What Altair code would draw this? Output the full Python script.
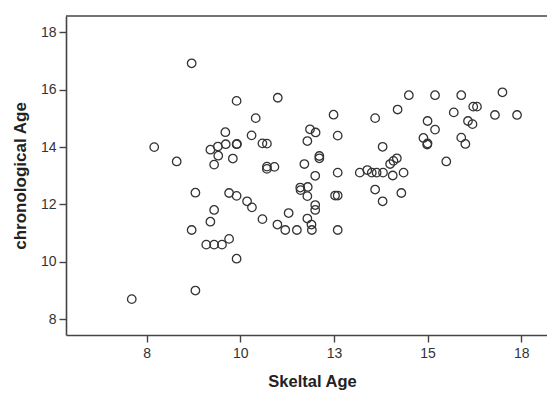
import altair as alt
import pandas as pd

skeletal_age = [
    7.10, 7.70, 8.30, 8.70, 8.70, 8.80, 8.80, 9.09, 9.30, 9.51,
    9.70, 9.90, 9.20, 9.30, 9.70, 9.90, 10.18, 10.31, 9.20, 9.40,
    9.61, 9.90, 9.91, 9.41, 9.30, 9.80, 9.60, 9.90, 10.41, 10.30,
    10.59, 10.71, 11.00, 10.71, 10.71, 10.91, 10.59, 10.99, 11.29, 11.20,
    11.51, 11.71, 11.86, 12.01, 11.79, 12.00, 12.11, 12.11, 12.49, 12.60,
    12.60, 11.60, 11.61, 11.80, 11.79, 12.00, 12.00, 11.79, 11.90, 11.91,
    12.53, 12.60, 12.60, 13.19, 13.39, 13.51, 13.64, 13.81, 14.07, 14.36,
    13.60, 13.80, 14.30, 13.60, 13.80, 14.00, 14.09, 14.18, 14.20, 14.50,
    14.89, 15.00, 14.99, 15.00, 15.20, 15.20, 15.50, 15.70, 15.90, 15.90,
    16.01, 16.08, 16.20, 16.22, 16.32, 16.80, 17.00, 17.39,
]
chronological_age = [
    8.70, 14.00, 13.50, 16.92, 11.11, 12.41, 9.00, 10.60, 10.60, 10.60,
    10.80, 10.11, 11.40, 11.81, 12.40, 12.30, 12.11, 11.90, 13.91, 14.02,
    14.10, 14.10, 14.11, 13.70, 13.39, 13.60, 14.52, 15.61, 15.01, 14.41,
    14.13, 14.12, 15.72, 13.32, 13.24, 13.31, 11.49, 11.30, 11.70, 11.11,
    11.11, 13.41, 14.62, 14.51, 14.21, 13.00, 13.69, 13.61, 15.13, 14.40,
    13.11, 12.59, 12.50, 12.61, 12.29, 11.98, 11.81, 11.51, 11.30, 11.11,
    12.31, 12.31, 11.11, 13.11, 13.20, 13.11, 13.11, 13.11, 13.01, 13.11,
    12.52, 12.11, 12.40, 15.01, 14.01, 13.41, 13.52, 13.61, 15.31, 15.81,
    14.32, 14.13, 14.09, 14.91, 14.61, 15.81, 13.50, 15.21, 15.81, 14.33,
    14.11, 14.91, 14.80, 15.41, 15.41, 15.12, 15.91, 15.12,
]
x_ticks = [7.5, 10, 12.5, 15, 17.5]
y_ticks = [8, 10, 12, 14, 16, 18]

df = pd.DataFrame({"Skeltal Age": skeletal_age, "chronological Age": chronological_age})

W, H = 481, 319

points = alt.Chart(df).mark_point(
    shape="circle", filled=False, size=72, strokeWidth=1.3, color="#333333", opacity=1
).encode(
    x=alt.X(
        "Skeltal Age:Q",
        scale=alt.Scale(domain=[5.344, 18.19], nice=False, zero=False),
        axis=alt.Axis(
            values=x_ticks, format=".0f", title="Skeltal Age", grid=False,
            domainColor="#444444", domainWidth=1.6, tickColor="#444444", tickWidth=1.4,
            tickSize=7, labelFontSize=14, labelColor="#333333", labelPadding=4,
            labelFont="Liberation Sans", titleFont="Liberation Sans", titleFontSize=16.5,
            titleFontWeight="bold", titleColor="#222222", titleX=246, titleY=46,
            titleBaseline="middle", titleAlign="center",
        ),
    ),
    y=alt.Y(
        "chronological Age:Q",
        scale=alt.Scale(domain=[7.45, 18.57], nice=False, zero=False),
        axis=alt.Axis(
            values=y_ticks, title="chronological Age", grid=False,
            domainColor="#444444", domainWidth=1.6, tickColor="#444444", tickWidth=1.4,
            tickSize=7, labelFontSize=14, labelColor="#333333", labelPadding=3,
            labelFont="Liberation Sans", titleFont="Liberation Sans", titleFontSize=17,
            titleFontWeight="bold", titleColor="#222222", titleX=-46, titleY=159.5,
            titleBaseline="middle", titleAlign="center", titleAngle=-90,
        ),
    ),
)

top_line = alt.Chart(pd.DataFrame({"a": [0]})).mark_rule(
    color="#444444", strokeWidth=1.6
).encode(y=alt.value(0), x=alt.value(0), x2=alt.value(W))

chart = alt.layer(points, top_line).properties(
    width=W, height=H,
    autosize=alt.AutoSizeParams(type="none"),
    padding={"left": 58, "top": 8, "right": 0, "bottom": 56},
).configure_view(stroke=None)

chart.save("out.html", embed_options={"renderer": "svg", "actions": False})
